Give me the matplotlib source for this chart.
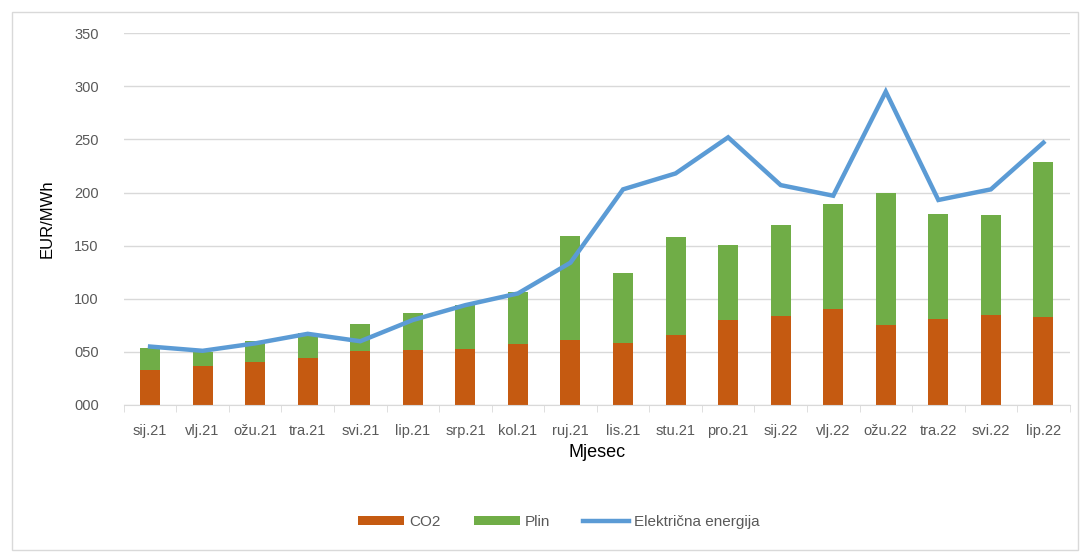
import numpy as np
import matplotlib.pyplot as plt
from matplotlib.patches import Rectangle

# Monthly prices, EUR/MWh
months = ['sij.21', 'vlj.21', 'ožu.21', 'tra.21', 'svi.21', 'lip.21', 'srp.21', 'kol.21', 'ruj.21',
          'lis.21', 'stu.21', 'pro.21', 'sij.22', 'vlj.22', 'ožu.22', 'tra.22', 'svi.22', 'lip.22']
co2 = [33, 37, 40, 44, 51, 52, 53, 57, 61, 58, 66, 80, 84, 90, 75, 81, 85, 83]
plin = [21, 13, 20, 24, 25, 35, 41, 49, 98, 66, 92, 71, 85, 99, 125, 99, 94, 146]
elektricna = [55, 51, 58, 67, 60, 80, 94, 105, 134, 203, 218, 252, 207, 197, 295, 193, 203, 247]
yticks = [0, 50, 100, 150, 200, 250, 300, 350]

plt.rcParams['font.family'] = ['Liberation Sans', 'DejaVu Sans']

c_co2 = '#C55A11'
c_plin = '#70AD47'
c_el = '#5B9BD5'
grey = '#595959'

fig = plt.figure(figsize=(10.86, 5.54), dpi=100)
ax = fig.add_axes([0.114, 0.269, 0.871, 0.671])

# chart frame
fig.patches.append(Rectangle((0.011, 0.008), 0.982, 0.97, transform=fig.transFigure,
                             fill=False, edgecolor='#D9D9D9', linewidth=1))

x = np.arange(len(months))
w = 0.38
b1 = ax.bar(x, co2, w, color=c_co2, label='CO2', zorder=2)
b2 = ax.bar(x, plin, w, bottom=co2, color=c_plin, label='Plin', zorder=2)
ln, = ax.plot(x, elektricna, color=c_el, linewidth=3.2, label='Električna energija', zorder=3,
              solid_joinstyle='miter')

ax.set_xlim(-0.5, len(months) - 0.5)
ax.set_ylim(0, 350)
ax.set_yticks(yticks)
ax.set_yticklabels([f'{v:03d}' for v in yticks])
ax.set_xticks(x)
ax.set_xticklabels(months)
ax.set_xticks(np.arange(-0.5, len(months)), minor=True)
ax.tick_params(axis='x', which='major', length=0, pad=14, labelsize=10.5, labelcolor=grey)
ax.tick_params(axis='x', which='minor', length=5, color='#D9D9D9')
ax.tick_params(axis='y', length=0, pad=18, labelsize=10.5, labelcolor=grey)

ax.grid(axis='y', color='#D9D9D9', linewidth=1, zorder=0)
ax.set_axisbelow(True)
for s in ['top', 'right', 'left']:
    ax.spines[s].set_visible(False)
ax.spines['bottom'].set_color('#D9D9D9')

ax.set_ylabel('EUR/MWh', fontsize=12, labelpad=14)
ax.set_xlabel('Mjesec', fontsize=13, labelpad=4)

ax.legend([b1, b2, ln], ['CO2', 'Plin', 'Električna energija'], loc='center',
          bbox_to_anchor=(0.46, -0.315), ncol=3, frameon=False,
          fontsize=11, labelcolor=grey, handlelength=3.0, handleheight=0.5, columnspacing=2.2,
          handletextpad=0.3)

fig.savefig('out.png', dpi=100)
